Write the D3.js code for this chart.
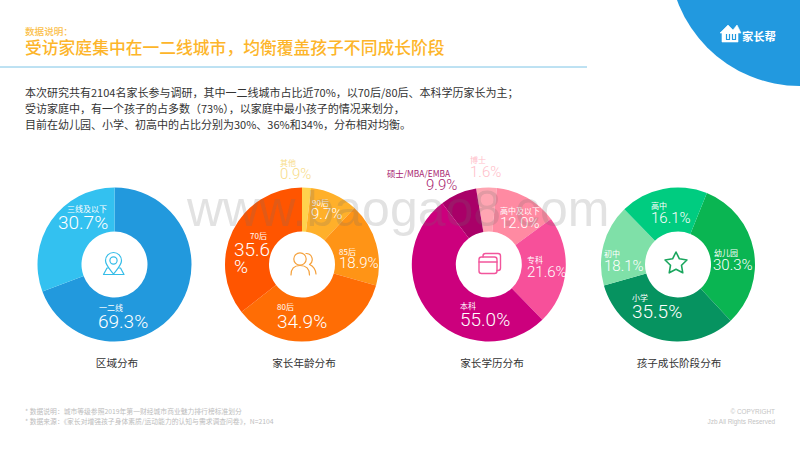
<!DOCTYPE html>
<html><head><meta charset="utf-8">
<script src="https://cdn.jsdelivr.net/npm/d3@7/dist/d3.min.js"></script>
<style>html,body{margin:0;padding:0;background:#fff}svg{display:block}
text{font-family:"Noto Sans CJK SC","Noto Sans",sans-serif}
.num{font-family:Roboto,"Liberation Sans",sans-serif;font-weight:300}</style>
</head><body><div id="c"></div>
<script>
// Printed labels and values
const regionNames = ["一二线","三线及以下"];
const regionValues = [69.3,30.7];
const ageNames = ["其他","90后","85后","80后","70后"];
const ageValues = [0.9,9.7,18.9,34.9,35.6];
const eduNames = ["博士","高中及以下","专科","本科","硕士/MBA/EMBA"];
const eduValues = [1.6,12.0,21.6,55.0,9.9];
const stageNames = ["幼儿园","小学","初中","高中"];
const stageValues = [30.3,35.5,18.1,16.1];
// Share of the ring each slice occupies as drawn in the picture (read from the arcs)
const regionArcs = [69.3,30.7];
const ageArcs = [1.9,10.0,17.5,35.0,35.6];
const eduArcs = [4.3,13.3,22.8,51.9,7.7];
const stageArcs = [31.9,32.6,17.1,18.4];
const chartTitles = ["区域分布","家长年龄分布","家长学历分布","孩子成长阶段分布"];
const bodyLines = [
 "本次研究共有2104名家长参与调研，其中一二线城市占比近70%，以70后/80后、本科学历家长为主；",
 "受访家庭中，有一个孩子的占多数（73%），以家庭中最小孩子的情况来划分，",
 "目前在幼儿园、小学、初高中的占比分别为30%、36%和34%，分布相对均衡。"];
const footLeft = ["* 数据说明：城市等级参照2019年第一财经城市商业魅力排行榜标准划分","* 数据来源：《家长对增强孩子身体素质/运动能力的认知与需求调查问卷》，N=2104"];
const footRight = ["© COPYRIGHT","Jzb All Rights Reserved"];

// Styling and layout
const W=800,H=450,R=77,r=33,cy=264.5;
const svg=d3.select("#c").append("svg").attr("width",W).attr("height",H);
svg.append("circle").attr("cx",800).attr("cy",-45).attr("r",131).attr("fill","#2299df");

const logo=svg.append("g").attr("fill","none").attr("stroke","#fff").attr("stroke-linejoin","round");
logo.append("path").attr("d","M720 33 L728 25 L733 30 L737 25 L741 33 L738 33 L738 42 L722 42 L722 33 Z").attr("fill","#fff").attr("stroke-width",.6);
logo.append("path").attr("d","M726.5 34 V39.5 H729.5 V34 M732.5 34 V39.5 H735.5 V34").attr("stroke","#2299df").attr("stroke-width",1.2);
svg.append("text").attr("x",742).attr("y",40.5).attr("font-size",11.3).attr("font-weight",700).attr("fill","#fff").text("家长帮");

svg.append("text").attr("x",25).attr("y",35).attr("font-size",9.6).attr("font-weight",500).attr("fill","#fbc04a").text("数据说明：");
svg.append("text").attr("x",25).attr("y",54).attr("font-size",16.8).attr("font-weight",500).attr("fill","#fdb52a").text("受访家庭集中在一二线城市，均衡覆盖孩子不同成长阶段");
svg.append("line").attr("x1",0).attr("x2",587).attr("y1",67).attr("y2",67).attr("stroke","#7cc4e6").attr("stroke-width",1);
svg.selectAll(".body").data(bodyLines).join("text").attr("x",25).attr("y",(d,i)=>97+i*16.2)
  .attr("font-size",11).attr("fill","#333").text(d=>d);

const charts=[
 {cx:114.5,start:0,names:regionNames,vals:regionValues,arcs:regionArcs,colors:["#2299dd","#33c1f0"]},
 {cx:302,start:0,names:ageNames,vals:ageValues,arcs:ageArcs,colors:["#ffd24d","#ffb02a","#ff9416","#ff6d05","#ff5500"]},
 {cx:488.8,start:-9.5,names:eduNames,vals:eduValues,arcs:eduArcs,colors:["#ffa5b2","#ff8aa2","#f7509a","#cc007d","#a90068"]},
 {cx:678,start:22,names:stageNames,vals:stageValues,arcs:stageArcs,colors:["#0ab552","#069360","#7fe0a8","#00cc80"]}
];
const titleX=[117,304,492,679];
const arc=d3.arc().innerRadius(r).outerRadius(R);
charts.forEach((c,ci)=>{
  const a0=c.start*Math.PI/180;
  const pie=d3.pie().sort(null).value(d=>d).startAngle(a0).endAngle(a0+2*Math.PI);
  const g=svg.append("g").attr("transform",`translate(${c.cx},${cy})`);
  g.selectAll("path").data(pie(c.arcs)).join("path").attr("d",arc).attr("fill",(d,i)=>c.colors[i]);
  svg.append("text").attr("x",titleX[ci]).attr("y",367).attr("text-anchor","middle")
    .attr("font-size",10.6).attr("fill","#333").text(chartTitles[ci]);
});

// Centre icons
const icon=(color,w)=>svg.append("g").attr("fill","none").attr("stroke",color).attr("stroke-width",w).attr("stroke-linejoin","round").attr("stroke-linecap","round");
const pin=icon("#35bde8",1.2);
pin.append("path").attr("d","M113.5 274 C109 268 105.5 265 105.5 260.5 A8 8 0 0 1 121.5 260.5 C121.5 265 118 268 113.5 274 Z");
pin.append("circle").attr("cx",113.5).attr("cy",260.5).attr("r",3.6);
pin.append("path").attr("d","M108 268 H107 L103.5 274.5 H124 L120.5 268 H119");
const ppl=icon("#f5a13c",1.2);
ppl.append("circle").attr("cx",300).attr("cy",259).attr("r",6.2);
ppl.append("path").attr("d","M291 275 C291 268 295 265.5 300 265.5 C305 265.5 309.5 268 309.5 275");
ppl.append("path").attr("d","M306 253.5 A6 6 0 0 1 309.5 264.5 C313 266 315.5 269 316 274");
const card=icon("#f2559c",1.4);
card.append("path").attr("d","M483 257 V256 A2.5 2.5 0 0 1 485.5 253.5 H498 A2.5 2.5 0 0 1 500.5 256 V268 A2.5 2.5 0 0 1 498 270.5 H497");
card.append("rect").attr("x",479).attr("y",257).attr("width",18).attr("height",16.5).attr("rx",2.5);
card.append("line").attr("x1",479).attr("x2",497).attr("y1",262).attr("y2",262);
const star=d3.range(10).map(i=>{const t=i*Math.PI/5,q=i%2?5.8:11.5;return [676+q*Math.sin(t),263.5-q*Math.cos(t)];});
icon("#1aa65e",1.6).append("path").attr("d",d3.line().curve(d3.curveLinearClosed)(star));

// Slice labels: [chart, slice, label x, label y, value x, value baseline, value size, label colour, value colour]
const wt="#fff";
const labels=[
 [0,1,67,212,58,229,19,wt,wt],
 [0,0,99,311,98,328,19,wt,wt],
 [1,0,280,166,280,179,15,"#f8dc88","#f8dc88"],
 [1,1,312,206,311,219,15,wt,wt],
 [1,2,339,255,339,268,15,wt,wt],
 [1,3,277,310,277,328,19,wt,wt],
 [1,4,250,239,234,256,19,wt,wt],
 [2,0,470,163,470,177,15,"#ffc0ca","#ffc0ca"],
 [2,1,500,214,500,228,15,wt,wt],
 [2,2,527,263,527,277,15,wt,wt],
 [2,3,460,309,460,326,19,wt,wt],
 [2,4,387,177,426,190,15,"#a8246f","#a8246f"],
 [3,3,651,209,651,223,15,wt,wt],
 [3,0,714,256,713,270,15,wt,wt],
 [3,2,604,257,604,271,15,wt,wt],
 [3,1,632,301,632,318,19,wt,wt]
];
labels.forEach(([ci,si,lx,ly,vx,vy,fs,lc,vc])=>{
  const c=charts[ci];
  svg.append("text").attr("x",lx).attr("y",ly).attr("font-size",ci==2&&si==4?8.4:8).attr("fill",lc).text(c.names[si]);
  const t=svg.append("text").attr("class","num").attr("x",vx).attr("y",vy).attr("font-size",fs).attr("fill",vc);
  const s=c.vals[si].toFixed(1);
  if(ci==1&&si==4){
    t.append("tspan").text(s);
    t.append("tspan").attr("x",vx).attr("dy",17).text("%");
  } else t.text(s+"%");
});

// Footer
svg.selectAll(".fl").data(footLeft).join("text").attr("x",25).attr("y",(d,i)=>414+i*10)
  .attr("font-size",6.8).attr("fill","#bdbdbd").text(d=>d);
svg.selectAll(".fr").data(footRight).join("text").attr("x",775).attr("y",(d,i)=>414+i*9.5).attr("text-anchor","end")
  .attr("font-size",6.4).attr("fill","#c4c4c4").style("font-family","'Liberation Sans'").text(d=>d);

// Watermark
svg.append("text").attr("x",187).attr("y",226).attr("font-size",50).style("font-family","'Liberation Sans'")
  .attr("fill","#707070").attr("fill-opacity",.2).text("www.baogao8.com");
</script></body></html>
